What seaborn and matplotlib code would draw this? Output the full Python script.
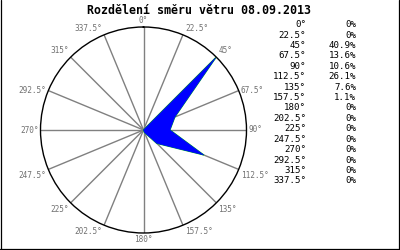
import numpy as np
import matplotlib
matplotlib.use("Agg")
import matplotlib.pyplot as plt
from matplotlib.lines import Line2D
import seaborn as sns

# ---- data ----
directions = [0, 22.5, 45, 67.5, 90, 112.5, 135, 157.5, 180, 202.5, 225, 247.5, 270, 292.5, 315, 337.5]
dir_labels = ["0°", "22.5°", "45°", "67.5°", "90°", "112.5°", "135°", "157.5°",
              "180°", "202.5°", "225°", "247.5°", "270°", "292.5°", "315°", "337.5°"]
percents = [0, 0, 40.9, 13.6, 10.6, 26.1, 7.6, 1.1, 0, 0, 0, 0, 0, 0, 0, 0]
pct_labels = ["0%", "0%", "40.9%", "13.6%", "10.6%", "26.1%", "7.6%", "1.1%",
              "0%", "0%", "0%", "0%", "0%", "0%", "0%", "0%"]
title = "Rozdělení směru větru 08.09.2013"

sns.set_style("white")
plt.rcParams['font.family'] = ['DejaVu Sans Mono', 'DejaVu Sans']

W, H = 400, 250
fig = plt.figure(figsize=(W / 100, H / 100), dpi=100)
fig.patch.set_facecolor("white")

cx, cy, R = 143.5, 130, 103
ax = fig.add_axes([(cx - R) / W, (H - cy - R) / H, 2 * R / W, 2 * R / H], projection="polar")
ax.set_theta_zero_location("N")
ax.set_theta_direction(-1)
rmax = 41.3
ax.set_ylim(0, rmax)
ax.set_yticks([])
ax.set_xticks(np.deg2rad(directions))
ax.set_xticklabels([])
ax.xaxis.grid(True, color="#808080", linewidth=1.0)
ax.yaxis.grid(False)
ax.spines["polar"].set_color("black")
ax.spines["polar"].set_linewidth(1.0)
ax.set_facecolor("white")

theta = np.deg2rad(np.array(directions + [directions[0]]))
vals = np.array(percents + [percents[0]])
sns.lineplot(x=theta, y=vals, ax=ax, sort=False, color="#00cc00", linewidth=0.9, zorder=2)
ax.fill(theta, vals, facecolor="#0000ff", edgecolor="#0000ff", linewidth=0.4, zorder=3)

# direction labels around the circle
for d, lab in zip(directions, dir_labels):
    s, c = np.sin(np.deg2rad(d)), np.cos(np.deg2rad(d))
    if abs(s) < 1e-6:
        ha = "center"
    elif s > 0:
        ha = "left"
    else:
        ha = "right"
    if c > 0.5:
        va = "bottom"
    elif c > -0.1:
        va = "center"
    else:
        va = "top"
    dx = 2 * np.sign(s) if abs(s) > 1e-6 else 0
    dy = 2 if va == "bottom" else (-2 if va == "top" else 0)
    ax.annotate(lab, xy=(np.deg2rad(d), rmax), xytext=(dx, dy), textcoords="offset pixels",
                ha=ha, va=va, fontsize=5.6, color="#707070", annotation_clip=False)

# title
fig.text(199 / W, 1 - 10 / H, title, ha="center", va="center", fontsize=8.4,
         fontweight="bold", color="black")

# table
y0, dy_row = 24.8, 10.4
for i, (dl, pl) in enumerate(zip(dir_labels, pct_labels)):
    y = 1 - (y0 + i * dy_row) / H
    fig.text(306 / W, y, dl, ha="right", va="center", fontsize=6.6, color="black")
    fig.text(356 / W, y, pl, ha="right", va="center", fontsize=6.6, color="black")

# border (left, right, bottom)
for xs, ys in [([0.5 / W, 0.5 / W], [0, 1]),
               ([398.5 / W, 398.5 / W], [0, 1]),
               ([0, 399 / W], [1.5 / H, 1.5 / H])]:
    fig.add_artist(Line2D(xs, ys, transform=fig.transFigure, color="black", linewidth=0.9))

fig.savefig("out.png", dpi=100)
